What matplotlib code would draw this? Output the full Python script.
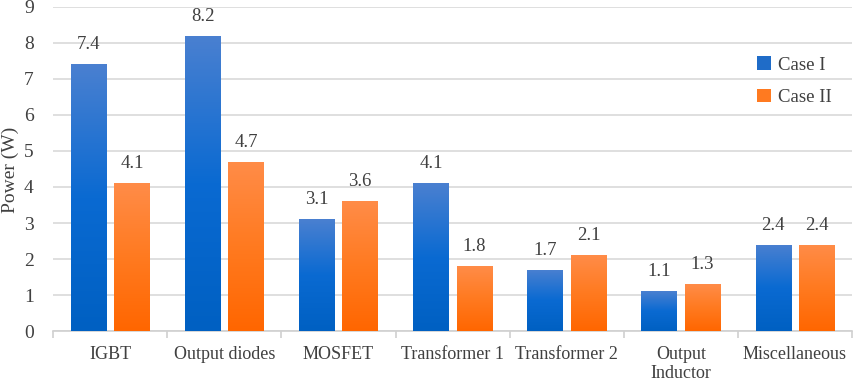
import numpy as np
import matplotlib
matplotlib.use("Agg")
import matplotlib.pyplot as plt
from matplotlib.colors import LinearSegmentedColormap
from matplotlib.patches import Patch

categories = ["IGBT", "Output diodes", "MOSFET", "Transformer 1",
              "Transformer 2", "Output\nInductor", "Miscellaneous"]
case1 = [7.4, 8.2, 3.1, 4.1, 1.7, 1.1, 2.4]
case2 = [4.1, 4.7, 3.6, 1.8, 2.1, 1.3, 2.4]

plt.rcParams['font.family'] = ['Liberation Serif', 'DejaVu Serif']

blue_cmap = LinearSegmentedColormap.from_list("b", ["#0060c2", "#0a6ad2", "#4a80d0"])
orange_cmap = LinearSegmentedColormap.from_list("o", ["#ff6600", "#ff7a20", "#ff8c48"])

fig = plt.figure(figsize=(8.58, 3.81), dpi=100)
ax = fig.add_axes([0.062, 0.131, 0.931, 0.851])

x = np.arange(len(categories))
w = 0.31
off = 0.19
bars1 = ax.bar(x - off, case1, w, color="#1f6cc8", zorder=2)
bars2 = ax.bar(x + off, case2, w, color="#ff7a20", zorder=2)

# gradient fill clipped to each bar
grad = np.linspace(0, 1, 256).reshape(-1, 1)
for bars, cmap in [(bars1, blue_cmap), (bars2, orange_cmap)]:
    for b in bars:
        x0, y0 = b.get_x(), b.get_y()
        bw, bh = b.get_width(), b.get_height()
        im = ax.imshow(grad, extent=[x0, x0 + bw, y0, y0 + bh], origin="lower",
                       aspect="auto", cmap=cmap, zorder=3)
        im.set_clip_path(b)
        b.set_facecolor("none")
        b.set_edgecolor("none")

for bars, vals in [(bars1, case1), (bars2, case2)]:
    for b, v in zip(bars, vals):
        ax.annotate(f"{v:.1f}", (b.get_x() + b.get_width() / 2, v),
                    xytext=(0, 8), textcoords="offset points",
                    ha="center", va="bottom", fontsize=13.5, color="#404040")

ax.set_xlim(-0.5, len(categories) - 0.5)
ax.set_ylim(0, 9)
ax.set_yticks(range(0, 10))
ax.yaxis.grid(True, color="#d9d9d9", linewidth=1.2, zorder=0)
ax.set_axisbelow(True)
for s in ["top", "right", "left"]:
    ax.spines[s].set_visible(False)
ax.spines["bottom"].set_color("#d0d0d0")
ax.spines["bottom"].set_linewidth(1.2)

ax.set_xticks(x)
ax.set_xticklabels(categories, fontsize=13, color="#404040", linespacing=1.1)
ax.set_xticks(np.arange(-0.5, len(categories)), minor=True)
ax.tick_params(axis="x", which="major", length=0, pad=11)
ax.tick_params(axis="x", which="minor", length=5, color="#d0d0d0", width=1.2)
ax.tick_params(axis="y", length=0, pad=14, labelsize=14, labelcolor="#404040")

fig.text(2 / 858, 0.555, "Power (W)", rotation=90, ha="left", va="center",
         fontsize=14, color="#404040")

handles = [Patch(facecolor="#1f6cc8", label="Case I"),
           Patch(facecolor="#ff7a20", label="Case II")]
ax.legend(handles=handles, loc="upper left", bbox_to_anchor=(0.8605, 0.899),
          frameon=False, fontsize=13.5, labelspacing=0.8, handlelength=0.7,
          handleheight=0.7, handletextpad=0.4, labelcolor="#404040")

fig.savefig("out.png", dpi=100)
